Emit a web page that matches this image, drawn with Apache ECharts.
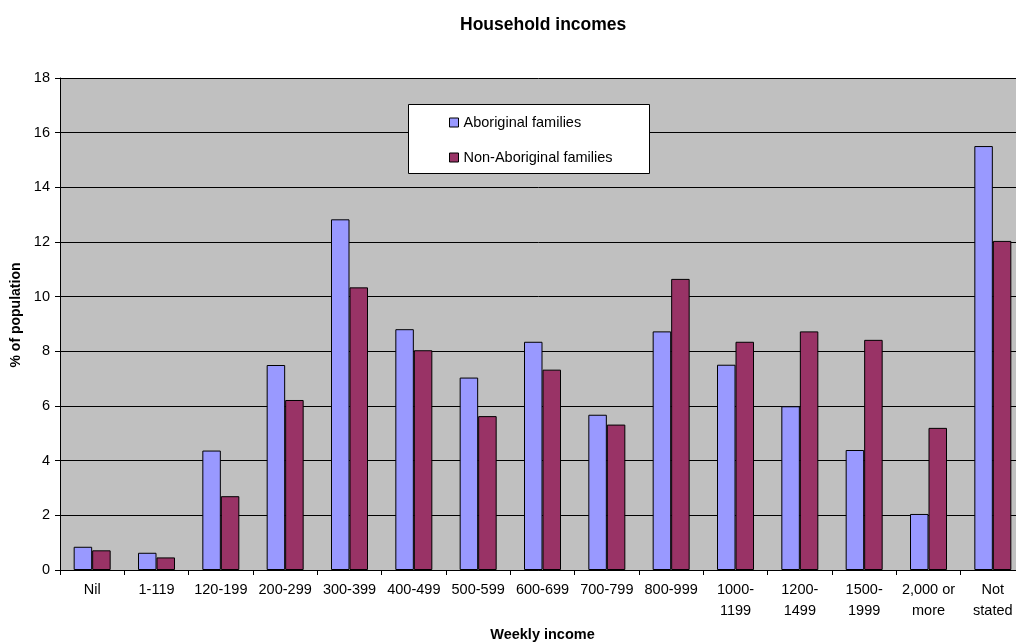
<!DOCTYPE html>
<html><head><meta charset="utf-8">
<script src="https://cdn.jsdelivr.net/npm/echarts@6/dist/echarts.min.js"></script>
<style>html,body{margin:0;padding:0;background:#fff}#c{width:1016px;height:644px}</style>
</head><body><div id="c"></div>
<script>
const categories = ["Nil","1-119","120-199","200-299","300-399","400-499","500-599","600-699","700-799","800-999","1000-\n1199","1200-\n1499","1500-\n1999","2,000 or\nmore","Not\nstated"];
const aboriginal = [0.85,0.63,4.37,7.50,12.83,8.81,7.04,8.35,5.68,8.73,7.51,5.99,4.39,2.05,15.51];
const nonAboriginal = [0.72,0.46,2.70,6.22,10.34,8.04,5.63,7.33,5.32,10.65,8.35,8.73,8.42,5.20,12.04];
const yTicks = {min:0, max:18, interval:2};

const chart = echarts.init(document.getElementById('c'), null, {renderer:'canvas'});
const font = 'Liberation Sans, Arial, sans-serif';
chart.setOption({
  animation:false,
  backgroundColor:'#fff',
  title:{text:'Household incomes', left:455, top:11,
    textStyle:{fontFamily:font, fontSize:17.5, fontWeight:'bold', color:'#000'}},
  grid:{left:60, top:78, width:965, height:492, show:true, backgroundColor:'#C0C0C0', borderWidth:0,
    containLabel:false, outerBoundsMode:'none'},
  legend:{
    left:444, top:110, orient:'vertical', itemGap:20, itemWidth:9, itemHeight:9,
    icon:'rect', z:20,
    itemStyle:{borderColor:'#000', borderWidth:1},
    textStyle:{fontFamily:font, fontSize:14.5, color:'#000'},
    data:['Aboriginal families','Non-Aboriginal families']
  },
  graphic:[{type:'rect', z:10, left:408, top:104, shape:{width:241, height:69},
    style:{fill:'#fff', stroke:'#000', lineWidth:1}}],
  xAxis:{type:'category', data:categories,
    name:'Weekly income', nameLocation:'middle', nameGap:57,
    nameTextStyle:{fontFamily:font, fontSize:14.5, fontWeight:'bold', color:'#000'},
    axisLine:{lineStyle:{color:'#000', width:1}},
    axisTick:{show:true, length:5, lineStyle:{color:'#000'}, alignWithLabel:false},
    axisLabel:{fontFamily:font, fontSize:14.5, color:'#000', margin:9, lineHeight:21, interval:0},
    splitLine:{show:false}},
  yAxis:{type:'value', min:yTicks.min, max:yTicks.max, interval:yTicks.interval,
    name:'% of population', nameLocation:'middle', nameGap:34, nameRotate:90,
    nameTextStyle:{fontFamily:font, fontSize:14, fontWeight:'bold', color:'#000', padding:[0,0,0,18]},
    axisLine:{show:true, lineStyle:{color:'#000', width:1}},
    axisTick:{show:true, length:5, lineStyle:{color:'#000'}},
    axisLabel:{fontFamily:font, fontSize:14.5, color:'#000', margin:10},
    splitLine:{show:true, lineStyle:{color:'#000', width:1}}},
  series:[
    {name:'Aboriginal families', type:'bar', data:aboriginal, barWidth:18.5, barGap:'0%',
      itemStyle:{color:'#9999FF', borderColor:'#000', borderWidth:1}},
    {name:'Non-Aboriginal families', type:'bar', data:nonAboriginal, barWidth:18.5, barGap:'0%',
      itemStyle:{color:'#993366', borderColor:'#000', borderWidth:1}}
  ]
});
</script></body></html>
